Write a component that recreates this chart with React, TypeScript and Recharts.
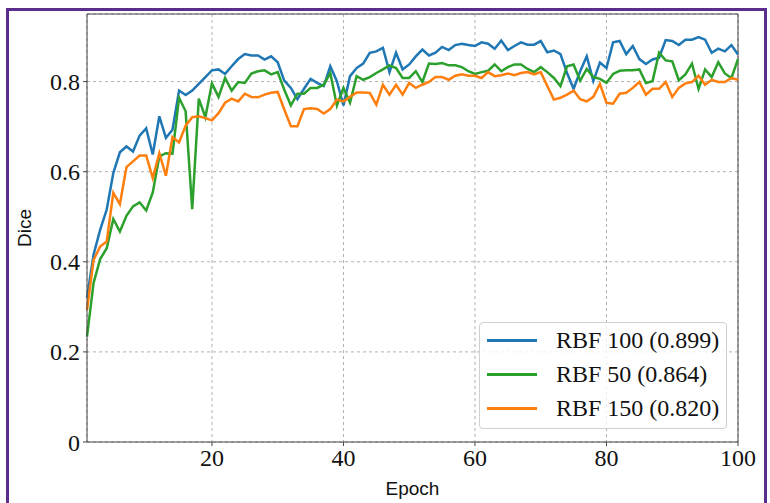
import React from 'react';
import { LineChart, Line, XAxis, YAxis, CartesianGrid, ReferenceLine, Label } from 'recharts';

const epochs = Array.from({ length: 100 }, (_, i) => i + 1);

const rbf100 = [
  0.32, 0.416, 0.471, 0.516, 0.597, 0.643, 0.656, 0.645, 0.68, 0.696,
  0.638, 0.723, 0.675, 0.693, 0.78, 0.77, 0.78, 0.795, 0.81, 0.825,
  0.827, 0.817, 0.834, 0.85, 0.861, 0.858, 0.858, 0.849, 0.856, 0.843,
  0.802, 0.786, 0.761, 0.784, 0.806, 0.797, 0.79, 0.834, 0.801, 0.747,
  0.812, 0.83, 0.84, 0.864, 0.867, 0.875, 0.821, 0.864, 0.827, 0.838,
  0.856, 0.871, 0.858, 0.864, 0.877, 0.87, 0.881, 0.884, 0.881, 0.879,
  0.887, 0.884, 0.873, 0.891, 0.87, 0.879, 0.887, 0.882, 0.882, 0.89,
  0.865, 0.869, 0.861, 0.819, 0.784, 0.823, 0.856, 0.801, 0.842, 0.83,
  0.887, 0.89, 0.861, 0.879, 0.85, 0.839, 0.849, 0.853, 0.892, 0.89,
  0.881, 0.893, 0.893, 0.899, 0.893, 0.864, 0.873, 0.867, 0.881, 0.86,
];

const rbf50 = [
  0.234, 0.353, 0.406, 0.43, 0.495, 0.467, 0.502, 0.523, 0.532, 0.514,
  0.554, 0.634, 0.641, 0.64, 0.764, 0.734, 0.517, 0.762, 0.721, 0.796,
  0.766, 0.808, 0.78, 0.799, 0.797, 0.818, 0.823, 0.825, 0.816, 0.821,
  0.782, 0.747, 0.773, 0.773, 0.786, 0.786, 0.793, 0.819, 0.747, 0.786,
  0.753, 0.812, 0.804, 0.81, 0.819, 0.827, 0.836, 0.83, 0.808, 0.808,
  0.823, 0.799, 0.84, 0.839, 0.841, 0.836, 0.836, 0.832, 0.823, 0.817,
  0.821, 0.824, 0.838, 0.823, 0.832, 0.838, 0.838, 0.828, 0.821, 0.832,
  0.821, 0.808, 0.79, 0.834, 0.838, 0.802, 0.828, 0.81, 0.806, 0.797,
  0.817, 0.824, 0.825, 0.825, 0.827, 0.797, 0.801, 0.864, 0.847, 0.845,
  0.803, 0.816, 0.84, 0.784, 0.827, 0.81, 0.843, 0.818, 0.808, 0.85,
];

const rbf150 = [
  0.293, 0.404, 0.434, 0.445, 0.553, 0.528, 0.61, 0.623, 0.636, 0.636,
  0.586, 0.641, 0.591, 0.677, 0.665, 0.702, 0.721, 0.723, 0.719, 0.714,
  0.73, 0.753, 0.762, 0.756, 0.773, 0.766, 0.765, 0.771, 0.775, 0.777,
  0.738, 0.701, 0.701, 0.739, 0.741, 0.739, 0.729, 0.739, 0.76, 0.756,
  0.766, 0.776, 0.776, 0.775, 0.749, 0.793, 0.771, 0.793, 0.771, 0.797,
  0.786, 0.793, 0.799, 0.81, 0.81, 0.804, 0.813, 0.816, 0.813, 0.813,
  0.808, 0.821, 0.812, 0.814, 0.818, 0.814, 0.819, 0.821, 0.816, 0.821,
  0.79, 0.76, 0.764, 0.771, 0.78, 0.761, 0.756, 0.766, 0.795, 0.753,
  0.751, 0.773, 0.775, 0.786, 0.799, 0.771, 0.784, 0.784, 0.799, 0.766,
  0.786, 0.796, 0.799, 0.813, 0.793, 0.804, 0.799, 0.799, 0.808, 0.804,
];

const xTicks = [20, 40, 60, 80, 100];
const yTicks = [0, 0.2, 0.4, 0.6, 0.8];

const series = [
  { key: 'rbf100', name: 'RBF 100 (0.899)', color: '#1f77b4' },
  { key: 'rbf50', name: 'RBF 50 (0.864)', color: '#2ca02c' },
  { key: 'rbf150', name: 'RBF 150 (0.820)', color: '#ff7f0e' },
];

const data = epochs.map((e, i) => ({ epoch: e, rbf100: rbf100[i], rbf50: rbf50[i], rbf150: rbf150[i] }));

const serif = '"Liberation Serif", "Times New Roman", serif';
const sans = '"Liberation Sans", Arial, sans-serif';

export default function App() {
  return (
    <div style={{ position: 'absolute', left: 0, top: 0, width: 770, height: 503, background: '#fff', overflow: 'hidden' }}>
      <div
        style={{
          position: 'absolute',
          left: 6,
          top: 8,
          width: 761,
          height: 520,
          border: '3px solid #5b2e8e',
          boxSizing: 'border-box',
        }}
      />
      <div style={{ position: 'absolute', left: 0, top: 0 }}>
        <LineChart width={770} height={503} data={data} margin={{ top: 14, right: 32, left: 0, bottom: 0 }}>
          <CartesianGrid stroke="#b0b0b0" strokeDasharray="3 3" />
          <XAxis
            dataKey="epoch"
            type="number"
            domain={[1, 100]}
            ticks={xTicks}
            height={61}
            tickSize={4}
            tickMargin={3}
            stroke="#444"
            tick={{ fill: '#111', fontFamily: serif, fontSize: 24 }}
          >
            <Label value="Epoch" position="insideBottom" offset={8} style={{ fill: '#111', fontFamily: sans, fontSize: 19 }} />
          </XAxis>
          <YAxis
            type="number"
            domain={[0, 0.95]}
            ticks={yTicks}
            width={87}
            tickSize={4}
            tickMargin={3}
            stroke="#444"
            tickFormatter={(v: number) => (v === 0 ? '0' : v.toFixed(1))}
            tick={{ fill: '#111', fontFamily: serif, fontSize: 24 }}
          >
            <Label value="Dice" angle={-90} position="insideLeft" offset={24} style={{ fill: '#111', fontFamily: sans, fontSize: 19, textAnchor: 'middle' }} />
          </YAxis>
          <ReferenceLine y={0.95} stroke="#444" />
          <ReferenceLine x={100} stroke="#444" />
          {series.map((s) => (
            <Line
              key={s.key}
              type="linear"
              dataKey={s.key}
              name={s.name}
              stroke={s.color}
              strokeWidth={2.5}
              dot={false}
              isAnimationActive={false}
            />
          ))}
        </LineChart>
      </div>
      {/* legend box, matplotlib style */}
      <div
        style={{
          position: 'absolute',
          left: 479,
          top: 322,
          width: 248,
          height: 107,
          border: '1px solid #d0d0d0',
          borderRadius: 4,
          background: 'rgba(255,255,255,0.8)',
          boxSizing: 'border-box',
          paddingTop: 0,
        }}
      >
        {series.map((s) => (
          <div key={s.key} style={{ display: 'flex', alignItems: 'center', height: 34 }}>
            <div style={{ width: 50, height: 3, background: s.color, marginLeft: 7, marginRight: 19 }} />
            <span style={{ fontFamily: serif, fontSize: 24, color: '#111', lineHeight: '34px' }}>{s.name}</span>
          </div>
        ))}
      </div>
    </div>
  );
}
